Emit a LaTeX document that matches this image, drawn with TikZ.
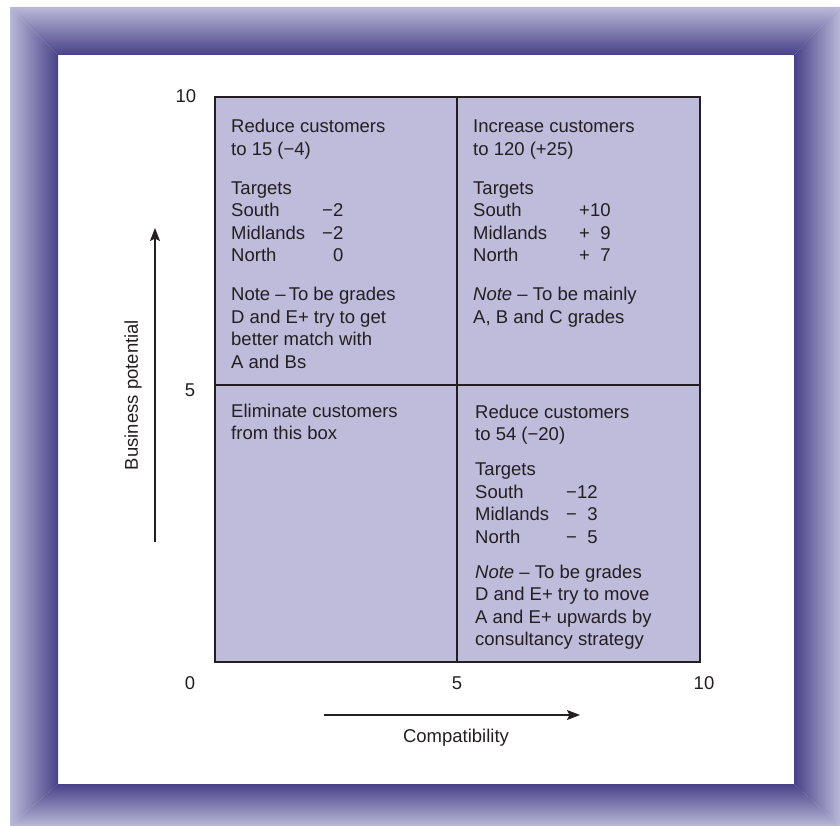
\documentclass[tikz,border=0pt]{standalone}
\usepackage{fontspec}
\setmainfont{Liberation Sans}
\usepackage{xcolor}
\usetikzlibrary{arrows.meta}

\definecolor{framelight}{RGB}{186,184,216}
\definecolor{framedark}{RGB}{72,66,136}
\definecolor{boxfill}{RGB}{190,187,219}
\definecolor{inkgray}{RGB}{35,31,32}

% South / Midlands / North with sign and digits
\newcommand{\targetrows}[7]{\begin{tabular}[t]{@{}l@{\hspace{#1}}l@{}r@{}}
South & #2 & #3\\
Midlands & #4 & #5\\
North & #6 & #7
\end{tabular}}

\begin{document}
\begin{tikzpicture}[x=1pt, y=-1pt,
      every node/.style={text=inkgray, font=\fontsize{18.5}{22.5}\selectfont},
      cell/.style={anchor=base west, inner sep=0pt},
      axisnum/.style={inner sep=0pt},
      axarrow/.style={line width=1.2pt, draw=inkgray, -{Stealth[length=13pt,width=10pt,inset=2.5pt]}},
      grid/.style={draw=inkgray, line width=1.8pt} ]
  \useasboundingbox (0,0) rectangle (840,826);
  % frame
  \shade[top color=framelight, bottom color=framedark] (10,7) -- (840,7) -- (794,55) -- (58,55) -- cycle;
  \shade[top color=framedark, bottom color=framelight] (58,784) -- (794,784) -- (840,826) -- (10,826) -- cycle;
  \shade[left color=framelight, right color=framedark] (10,7) -- (58,55) -- (58,784) -- (10,826) -- cycle;
  \shade[left color=framedark, right color=framelight] (794,55) -- (840,7) -- (840,826) -- (794,784) -- cycle;

  % matrix
  \coordinate (bl) at (215,662);
  \coordinate (tr) at (700,97);
  \coordinate (midtop) at (457,97);
  \coordinate (midbot) at (457,662);
  \coordinate (midleft) at (215,385);
  \coordinate (midright) at (700,385);
  \fill[boxfill] (bl) rectangle (tr);
  \draw[grid] (midtop) -- (midbot);
  \draw[grid] (midleft) -- (midright);
  \draw[grid] (bl) rectangle (tr);

  \node[cell] (nw) at (231,133) {\begin{tabular}[t]{@{}l@{}}
    Reduce customers\\
    to 15 (−4)\\ \noalign{\vskip 16.5pt}
    Targets\\
    \targetrows{17pt}{−}{2}{−}{2}{}{0}\\ \noalign{\vskip 16.5pt}
    Note --\,To be grades\\
    D and E+ try to get\\
    better match with\\
    A and Bs
  \end{tabular}};
  \node[cell] (ne) at (473,133) {\begin{tabular}[t]{@{}l@{}}
    Increase customers\\
    to 120 (+25)\\ \noalign{\vskip 16.5pt}
    Targets\\
    \targetrows{32pt}{+}{10}{+}{9}{+}{7}\\ \noalign{\vskip 16.5pt}
    \textit{Note} -- To be mainly\\
    A, B and C grades
  \end{tabular}};
  \node[cell] (sw) at (231,417) {\begin{tabular}[t]{@{}l@{}}
    Eliminate customers\\
    from this box
  \end{tabular}};
  \node[cell] (se) at (475,418) {\begin{tabular}[t]{@{}l@{}}
    Reduce customers\\
    to 54 (−20)\\ \noalign{\vskip 12.5pt}
    Targets\\
    \targetrows{17pt}{−}{12}{−}{3}{−}{5}\\ \noalign{\vskip 12.5pt}
    \textit{Note} -- To be grades\\
    D and E+ try to move\\
    A and E+ upwards by\\
    consultancy strategy
  \end{tabular}};

  % scale values
  \node[axisnum] (y10) at (186,96) {10};
  \node[axisnum] (y5) at (190,390) {5};
  \node[axisnum] (x0) at (190,683) {0};
  \node[axisnum] (x5) at (457,683) {5};
  \node[axisnum] (x10) at (704,683) {10};

  % axes
  \coordinate (ytail) at (155,542);
  \coordinate (yhead) at (155,228);
  \draw[axarrow] (ytail) -- (yhead);
  \node[rotate=90] (ylabel) at (133,395) {Business potential};
  \coordinate (xtail) at (324,715);
  \coordinate (xhead) at (580,715);
  \draw[axarrow] (xtail) -- (xhead);
  \node (xlabel) at (456,738) {Compatibility};
\end{tikzpicture}
\end{document}
